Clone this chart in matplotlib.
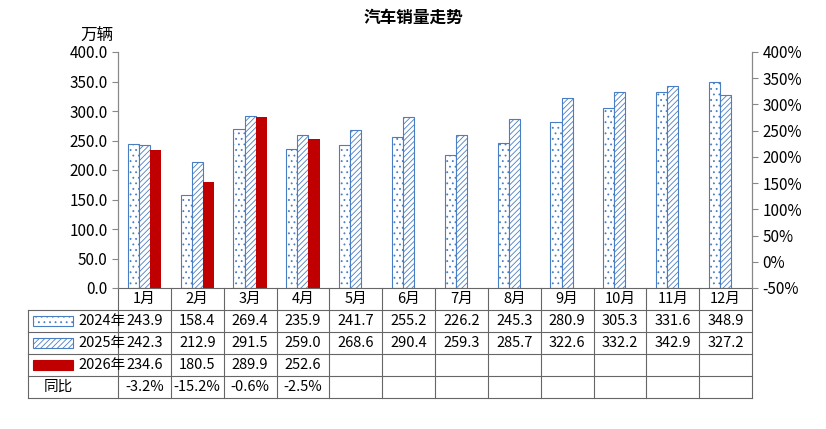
import matplotlib.pyplot as plt
import numpy as np
from matplotlib.patches import Rectangle

plt.rcParams['font.family'] = ['Noto Sans CJK SC', 'DejaVu Sans']
plt.rcParams['hatch.linewidth'] = 0.6

months = ['1月', '2月', '3月', '4月', '5月', '6月', '7月', '8月', '9月', '10月', '11月', '12月']
s2024 = [243.9, 158.4, 269.4, 235.9, 241.7, 255.2, 226.2, 245.3, 280.9, 305.3, 331.6, 348.9]
s2025 = [242.3, 212.9, 291.5, 259.0, 268.6, 290.4, 259.3, 285.7, 322.6, 332.2, 342.9, 327.2]
s2026 = [234.6, 180.5, 289.9, 252.6]
yoy = ['-3.2%', '-15.2%', '-0.6%', '-2.5%']

blue = '#4A7EC2'
red = '#C00000'

fig = plt.figure(figsize=(8.26, 4.29), dpi=100)
ax = fig.add_axes([118/826, 1-288/429, 634/826, 236/429])
x = np.arange(12)
w = 0.21
ax.bar(x - w, s2024, w, facecolor='white', edgecolor=blue, hatch='...', linewidth=0.8)
ax.bar(x, s2025, w, facecolor='white', edgecolor=blue, hatch='//////', linewidth=0.8)
ax.bar(x[:4] + w, s2026, w, color=red)
ax.set_xlim(-0.5, 11.5)
ax.set_ylim(0, 400)
ax.set_yticks(np.arange(0, 401, 50))
ax.set_yticklabels([f'{v:.1f}' for v in np.arange(0, 401, 50)], fontsize=11)
ax.set_xticks([])
ax.spines['top'].set_visible(False)
ax.spines['bottom'].set_visible(False)
ax.spines['left'].set_color('#888888')
ax.spines['right'].set_color('#888888')
ax.tick_params(axis='y', length=4, color='#888888')
ax2 = ax.twinx()
ax2.set_ylim(-50, 400)
ax2.set_yticks(np.arange(-50, 401, 50))
ax2.set_yticklabels([f'{v}%' for v in np.arange(-50, 401, 50)], fontsize=11)
ax2.spines['top'].set_visible(False)
ax2.spines['bottom'].set_visible(False)
ax2.spines['left'].set_color('#888888')
ax2.spines['right'].set_color('#888888')
ax2.tick_params(axis='y', length=4, color='#888888')

fig.text(118/826 - 0.005, 1-35/429, '万辆', fontsize=12, ha='right', va='center')
fig.text(0.5, 1-18/429, '汽车销量走势', fontsize=12, fontweight='bold', ha='center', va='center')

# data table
tr = ax.get_xaxis_transform()
rh = 22/236
left = -0.5 - 90/52.83
lc = '#666666'
rows = [('2024年', s2024), ('2025年', s2025), ('2026年', s2026), ('同比', yoy)]
for i in range(5):
    y = -i * rh
    x0 = -0.5 if i == 0 else left
    ax.plot([x0, 11.5], [y, y], transform=tr, color=lc, lw=0.8, clip_on=False)
yb = -5 * rh
ax.plot([left, 11.5], [yb, yb], transform=tr, color=lc, lw=0.8, clip_on=False)
ax.plot([left, left], [-rh, yb], transform=tr, color=lc, lw=0.8, clip_on=False)
for k in range(13):
    ax.plot([k - 0.5, k - 0.5], [0, yb], transform=tr, color=lc, lw=0.8, clip_on=False)
for k, m in enumerate(months):
    ax.text(k, -0.5 * rh, m, transform=tr, ha='center', va='center', fontsize=10.5)
styles = [dict(facecolor='white', edgecolor=blue, hatch='...'),
          dict(facecolor='white', edgecolor=blue, hatch='//////'),
          dict(facecolor=red, edgecolor=red), None]
for r, (name, vals) in enumerate(rows):
    yc = -(r + 1.5) * rh
    if styles[r] is not None:
        ax.add_patch(Rectangle((left + 0.1, yc - 0.022), 0.75, 0.044, transform=tr,
                               clip_on=False, lw=0.8, **styles[r]))
        ax.text(left + 0.95, yc, name, transform=tr, ha='left', va='center', fontsize=10.5)
    else:
        ax.text(left + 0.3, yc, name, transform=tr, ha='left', va='center', fontsize=10.5)
    for k, v in enumerate(vals):
        t = v if isinstance(v, str) else f'{v:.1f}'
        ax.text(k, yc, t, transform=tr, ha='center', va='center', fontsize=10.5)

fig.savefig('out.png', dpi=100)
